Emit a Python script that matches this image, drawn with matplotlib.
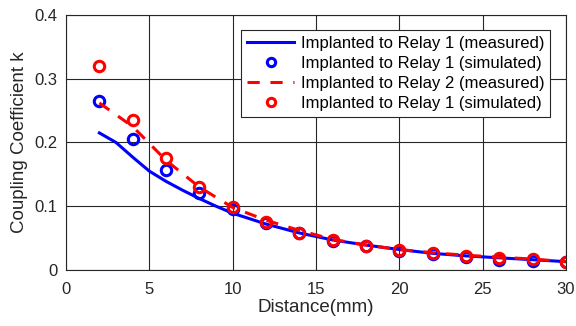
import numpy as np
import matplotlib
matplotlib.use('Agg')
import matplotlib.pyplot as plt

plt.rcParams['font.family'] = ['Liberation Sans', 'DejaVu Sans']

# measured curve, relay 1
dist_meas1 = [2, 3, 4, 5, 6, 7, 8, 9, 10, 12, 14, 16, 18, 20, 22, 24, 26, 28, 30]
k_meas1 = [0.215, 0.200, 0.177, 0.155, 0.139, 0.125, 0.112, 0.100, 0.089,
           0.072, 0.058, 0.047, 0.039, 0.032, 0.026, 0.022, 0.019, 0.016, 0.013]

# simulated points and relay 2 measured curve
dist = [2, 4, 6, 8, 10, 12, 14, 16, 18, 20, 22, 24, 26, 28, 30]
k_sim1 = [0.265, 0.205, 0.157, 0.120, 0.095, 0.073, 0.058, 0.045, 0.037,
          0.030, 0.025, 0.020, 0.016, 0.014, 0.012]
k_meas2 = [0.262, 0.225, 0.172, 0.130, 0.098, 0.078, 0.062, 0.048, 0.039,
           0.032, 0.027, 0.023, 0.020, 0.017, 0.013]
k_sim2 = [0.320, 0.235, 0.175, 0.130, 0.098, 0.075, 0.058, 0.047, 0.038,
          0.031, 0.026, 0.022, 0.019, 0.017, 0.013]

fig = plt.figure(figsize=(5.76, 3.26), dpi=100)
ax = fig.add_axes([0.1146, 0.172, 0.868, 0.782])

ax.plot(dist_meas1, k_meas1, '-', color='#0000ff', lw=2.2,
        label='Implanted to Relay 1 (measured)')
ax.plot(dist, k_sim1, 'o', mfc='none', mec='#0000ff', mew=2.2, ms=7.5,
        label='Implanted to Relay 1 (simulated)')
ax.plot(dist, k_meas2, '--', color='#ff0000', lw=2.2, dashes=(4, 3.5),
        label='Implanted to Relay 2 (measured)')
ax.plot(dist, k_sim2, 'o', mfc='none', mec='#ff0000', mew=2.2, ms=7.5,
        label='Implanted to Relay 1 (simulated)')

ax.set_xlim(0, 30)
ax.set_ylim(0, 0.4)
ax.set_xticks([0, 5, 10, 15, 20, 25, 30])
ax.set_yticks([0, 0.1, 0.2, 0.3, 0.4])
ax.set_yticklabels(['0', '0.1', '0.2', '0.3', '0.4'])
ax.grid(True, color='#262626', lw=0.8)
ax.tick_params(labelsize=12, length=0, colors='#262626')
ax.tick_params(axis='x', pad=9)
ax.tick_params(axis='y', pad=6)
for s in ax.spines.values():
    s.set_color('#262626')
    s.set_linewidth(0.8)

ax.set_xlabel('Distance(mm)', fontsize=13.5, color='#262626', labelpad=1)
ax.set_ylabel('Coupling Coefficient k', fontsize=13.5, color='#262626', labelpad=5)

leg = ax.legend(loc='upper right', bbox_to_anchor=(0.968, 0.941), fontsize=12,
                fancybox=False, framealpha=1, edgecolor='#262626',
                borderpad=0.35, labelspacing=0.3, handlelength=2.8,
                handletextpad=0.4, borderaxespad=0, markerscale=0.8)
leg.get_frame().set_linewidth(0.8)

fig.savefig('out.png', dpi=100)
